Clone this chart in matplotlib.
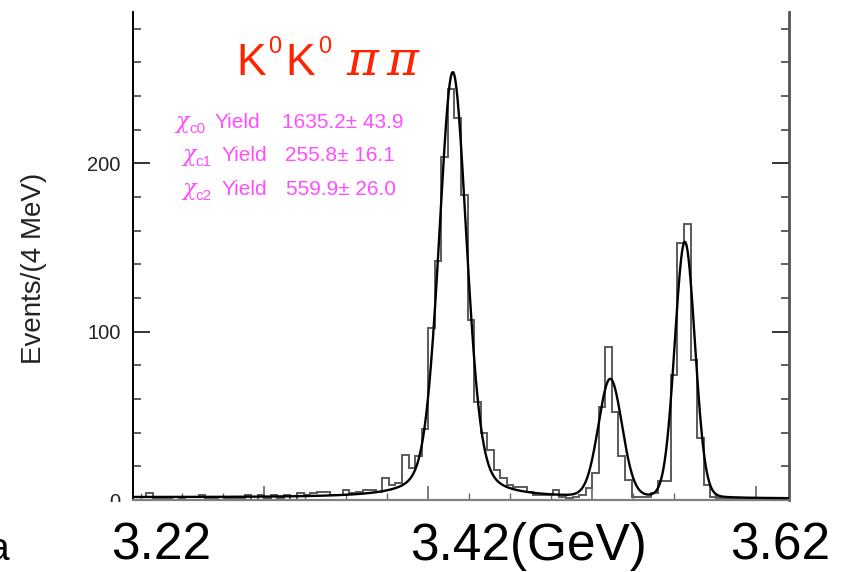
import numpy as np
import matplotlib
matplotlib.use("Agg")
import matplotlib.pyplot as plt
from matplotlib.patches import Rectangle
from matplotlib.ticker import MultipleLocator

# ---- data -------------------------------------------------------------
# K0 K0 pi pi invariant mass, 4 MeV bins from 3.22 to 3.62 GeV
mass_lo = 3.22
mass_hi = 3.62
bin_width = 0.004
counts = [
    2, 2, 4, 1, 1, 1, 0, 1, 2, 2,
    3, 1, 1, 0, 1, 1, 1, 3, 0, 3,
    1, 3, 1, 3, 0, 4, 3, 4, 5, 5,
    3, 3, 6, 4, 5, 6, 6, 5, 13, 9,
    10, 27, 19, 26, 42, 102, 142, 204, 244, 227,
    181, 107, 58, 40, 30, 18, 13, 9, 8, 8,
    5, 3, 3, 3, 6, 2, 1, 2, 3, 7,
    16, 55, 91, 52, 26, 12, 2, 2, 2, 4,
    11, 11, 74, 153, 164, 83, 37, 9, 2, 1,
    1, 1, 1, 1, 1, 1, 1, 0, 1, 1,
]

# fitted line shapes: mass [GeV], height [events/bin], FWHM [GeV], Lorentzian fraction
peak_mass = [3.4150, 3.5110, 3.5565]
peak_height = [253.0, 70.0, 152.0]
peak_fwhm = [0.020, 0.017, 0.0145]
peak_lorentz_frac = [0.30, 0.05, 0.05]
bkg_ends = [1.6, 0.8]

yield_states = ["c0", "c1", "c2"]
yield_values = ["1635.2", "255.8", "559.9"]
yield_errors = ["43.9", "16.1", "26.0"]

x_labels = ["3.22", "3.42(GeV)", "3.62"]

# ---- style ------------------------------------------------------------
plt.rcParams["font.family"] = ["Liberation Sans", "DejaVu Sans"]
W, H = 850, 572
fig = plt.figure(figsize=(W / 100, H / 100), dpi=100)


def fx(px):
    return px / W


def fy(py):
    return 1 - py / H


ax = fig.add_axes([fx(133), fy(500), fx(789) - fx(133), fy(12) - fy(500)])

edges = mass_lo + bin_width * np.arange(len(counts) + 1)
ax.stairs(counts, edges, color="#5a5a5a", lw=1.4, baseline=0, zorder=2)


def pseudo_voigt(x, m, h, fwhm, eta):
    half = fwhm / 2
    lor = 1.0 / (1.0 + ((x - m) / half) ** 2)
    gau = np.exp(-4 * np.log(2) * ((x - m) / fwhm) ** 2)
    return h * (eta * lor + (1 - eta) * gau)


xs = np.linspace(mass_lo, mass_hi, 2000)
fit = bkg_ends[0] + (bkg_ends[1] - bkg_ends[0]) * (xs - mass_lo) / (mass_hi - mass_lo)
for m, h, w, e in zip(peak_mass, peak_height, peak_fwhm, peak_lorentz_frac):
    fit = fit + pseudo_voigt(xs, m, h, w, e)
ax.plot(xs, fit, color="black", lw=1.7, zorder=3)

ax.set_xlim(mass_lo, mass_hi)
ax.set_ylim(0, 290)

ax.spines["top"].set_visible(False)
ax.spines["left"].set_color("black")
ax.spines["left"].set_linewidth(1.4)
ax.spines["right"].set_color("#555555")
ax.spines["right"].set_linewidth(2.0)
ax.spines["bottom"].set_color("#808080")
ax.spines["bottom"].set_linewidth(1.6)

ax.xaxis.set_major_locator(MultipleLocator(0.1))
ax.xaxis.set_minor_locator(MultipleLocator(0.025))
ax.yaxis.set_major_locator(MultipleLocator(100))
ax.yaxis.set_minor_locator(MultipleLocator(20))
ax.tick_params(axis="x", which="both", direction="in", labelbottom=False,
               color="#666666")
ax.tick_params(axis="x", which="major", length=10, width=1.2)
ax.tick_params(axis="x", which="minor", length=5, width=1.0)
ax.tick_params(axis="y", which="both", direction="in", left=True, right=True,
               labelright=False, color="#333333")
ax.tick_params(axis="y", which="major", length=12, width=1.4, labelsize=14.5,
               pad=9, labelcolor="#222222")
ax.tick_params(axis="y", which="minor", length=6, width=1.1)

fig.text(fx(34), fy(268), "Events/(4 MeV)", rotation=90, ha="center",
         va="center", fontsize=20, color="#222222")

# title
red = "#ff2400"
fig.text(fx(236), fy(75), "K", fontsize=32, color=red, va="baseline")
fig.text(fx(268), fy(53), "0", fontsize=17, color=red, va="baseline")
fig.text(fx(285), fy(75), "K", fontsize=32, color=red, va="baseline")
fig.text(fx(318), fy(53), "0", fontsize=17, color=red, va="baseline")
fig.text(fx(346), fy(75), "\u03c0", fontsize=35, color=red, va="baseline",
         family="DejaVu Serif", style="italic")
fig.text(fx(386), fy(75), "\u03c0", fontsize=35, color=red, va="baseline",
         family="DejaVu Serif", style="italic")

# fitted yields
mag = "#ff4dff"
chi_x = [175, 182, 182]
sub_x = [189, 195, 195]
word_x = [215, 222, 222]
num_x = [282, 285, 286]
line_y = [128, 161.5, 195]
for k in range(3):
    y0 = line_y[k]
    fig.text(fx(chi_x[k]), fy(y0), "\u03c7", fontsize=16, color=mag,
             va="baseline", family="DejaVu Serif", style="italic")
    fig.text(fx(sub_x[k]), fy(y0 + 5), yield_states[k], fontsize=11,
             color=mag, va="baseline")
    fig.text(fx(word_x[k]), fy(y0), "Yield", fontsize=15, color=mag,
             va="baseline")
    fig.text(fx(num_x[k]), fy(y0), f"{yield_values[k]}\u00b1 {yield_errors[k]}",
             fontsize=15, color=mag, va="baseline")

# lower part of the page under the plot
fig.patches.append(Rectangle((0, 0), 1, fy(502), transform=fig.transFigure,
                             facecolor="white", edgecolor="none", zorder=5))
label_x = [161, 528, 780]
for lx, txt in zip(label_x, x_labels):
    fig.text(fx(lx), fy(560), txt, fontsize=37, ha="center", va="baseline",
             color="black", zorder=6)
fig.text(fx(9), fy(560), "a", fontsize=28, ha="right", va="baseline",
         color="black", zorder=6)

fig.savefig("out.png", dpi=100)
